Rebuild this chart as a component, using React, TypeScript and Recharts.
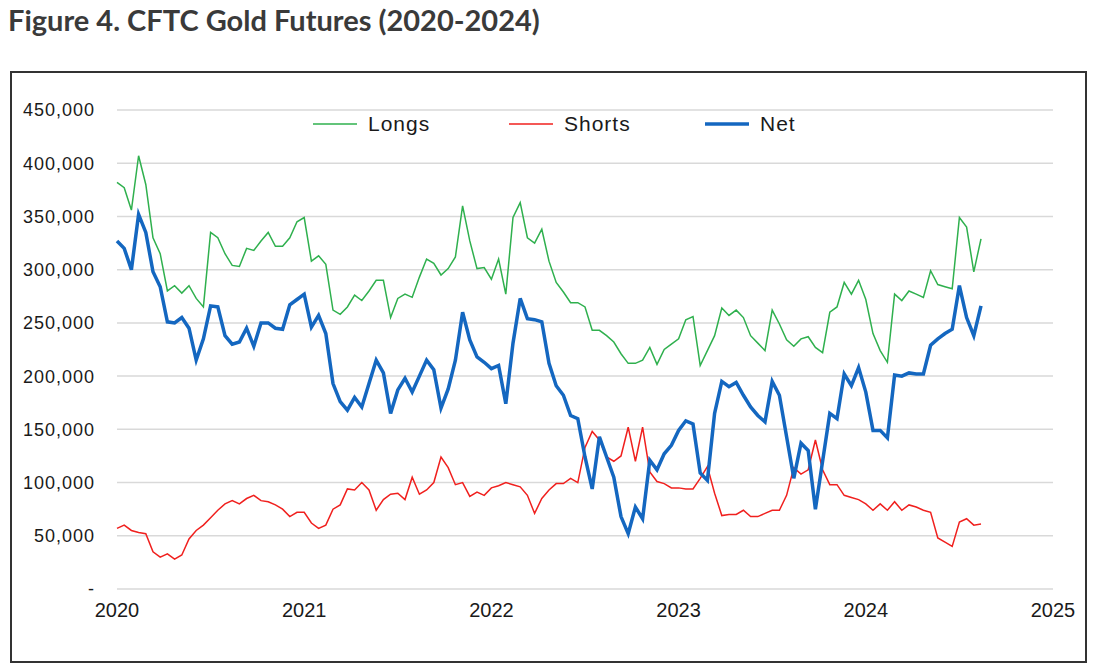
import { LineChart, Line, XAxis, YAxis, CartesianGrid, Legend } from "recharts";

// CFTC gold futures positioning, thousands of contracts, read every 2 weeks from Jan 2020
const longs = [
  382, 377, 356, 407, 380, 330, 315, 280, 285, 278, 285, 273, 265, 335, 330, 315, 304, 303, 320, 318,
  327, 335, 322, 322, 330, 345, 349, 308, 313, 305, 262, 258, 265, 276, 271, 280, 290, 290, 255, 273,
  277, 274, 293, 310, 306, 295, 301, 312, 360, 327, 301, 302, 291, 310, 277, 349, 363, 330, 325, 338,
  308, 288, 279, 269, 269, 265, 243, 243, 238, 232, 221, 212, 212, 215, 227, 211, 225, 230, 235, 253,
  256, 210, 224, 238, 264, 257, 262, 255, 238, 231, 224, 262, 249, 234, 228, 235, 237, 227, 222, 260,
  265, 288, 277, 290, 272, 240, 224, 213, 277, 271, 280, 277, 274, 299, 286, 284, 282, 349, 340, 298,
  329,
];
const shorts = [
  57, 60, 55, 53, 52, 35, 30, 33, 28, 32, 47, 55, 60, 67, 74, 80, 83, 80, 85, 88,
  83, 82, 79, 75, 68, 72, 72, 62, 57, 60, 75, 79, 94, 93, 100, 93, 74, 84, 89, 90,
  84, 105, 89, 93, 100, 124, 114, 98, 100, 87, 91, 88, 95, 97, 100, 98, 96, 88, 71, 85,
  93, 99, 99, 104, 100, 133, 148, 140, 124, 120, 125, 152, 120, 152, 110, 101, 99, 95, 95, 94,
  94, 104, 115, 90, 69, 70, 70, 74, 68, 68, 71, 74, 74, 88, 114, 108, 112, 140, 112, 98,
  98, 88, 86, 84, 80, 74, 80, 74, 82, 74, 79, 77, 74, 72, 48, 44, 40, 63, 66, 60,
  61,
];
const net = [
  327, 320, 300, 352, 335, 298, 284, 251, 250, 255, 245, 215, 235, 266, 265, 238, 230, 232, 245, 228,
  250, 250, 245, 244, 267, 272, 277, 246, 257, 240, 193, 176, 168, 180, 171, 193, 215, 203, 165, 187,
  198, 185, 200, 215, 206, 170, 188, 215, 260, 234, 218, 213, 207, 210, 174, 231, 273, 254, 253, 251,
  212, 191, 182, 163, 160, 124, 94, 143, 124, 105, 68, 52, 77, 66, 121, 112, 127, 135, 149, 158,
  155, 109, 102, 165, 195, 190, 194, 182, 171, 163, 157, 195, 182, 143, 104, 137, 130, 75, 120, 165,
  160, 202, 191, 208, 185, 149, 149, 142, 201, 200, 203, 202, 202, 229, 235, 240, 244, 285, 255, 238,
  266,
];

const yearTicks = [2020, 2021, 2022, 2023, 2024, 2025];
const valueTicks = [0, 50, 100, 150, 200, 250, 300, 350, 400, 450];

const data = longs.map((v, i) => ({
  t: 2020 + i / 26,
  longs: v,
  shorts: shorts[i],
  net: net[i],
}));

const legendItems = [
  { name: "Longs", color: "#2fb04e", width: 1.5 },
  { name: "Shorts", color: "#f0201e", width: 1.5 },
  { name: "Net", color: "#1467c0", width: 3.5 },
];

const FONT = "'Liberation Sans', Arial, sans-serif";

function renderLegend() {
  return (
    <div style={{ display: "flex", fontFamily: FONT, fontSize: 21, color: "#1a1a1a", lineHeight: "24px" }}>
      {legendItems.map((it) => (
        <div key={it.name} style={{ display: "flex", alignItems: "center", width: 196 }}>
          <svg width={44} height={10}>
            <line x1={0} y1={5} x2={44} y2={5} stroke={it.color} strokeWidth={it.width} />
          </svg>
          <span style={{ marginLeft: 11, letterSpacing: 1 }}>{it.name}</span>
        </div>
      ))}
    </div>
  );
}

const fmtValue = (v: number) => (v === 0 ? "-" : (v * 1000).toLocaleString("en-US"));

export default function App() {
  return (
    <div style={{ position: "absolute", left: 0, top: 0, width: 1100, height: 670, background: "#fff" }}>
      <div
        style={{
          position: "absolute",
          left: 8,
          top: 5,
          fontFamily: "Lato, 'Open Sans', sans-serif",
          fontWeight: 700,
          fontSize: 29,
          lineHeight: "29px",
          color: "#3a3a3a",
        }}
      >
        Figure 4. CFTC Gold Futures (2020-2024)
      </div>
      <div
        style={{
          position: "absolute",
          left: 10,
          top: 71,
          width: 1077,
          height: 592,
          boxSizing: "border-box",
          border: "2px solid #333",
        }}
      />
      <div style={{ position: "absolute", left: 0, top: 0 }}>
        <LineChart width={1100} height={670} data={data} margin={{ top: 110, right: 47, bottom: 51, left: 0 }}>
          <CartesianGrid vertical={false} stroke="#d9d9d9" strokeWidth={1.5} />
          <XAxis
            dataKey="t"
            type="number"
            domain={[2020, 2025]}
            ticks={yearTicks}
            axisLine={false}
            tickLine={false}
            tickSize={0}
            tickMargin={14}
            height={30}
            tick={{ fontSize: 20, fill: "#1a1a1a", fontFamily: FONT }}
          />
          <YAxis
            type="number"
            domain={[0, 450]}
            ticks={valueTicks}
            tickFormatter={fmtValue}
            axisLine={false}
            tickLine={false}
            tickSize={0}
            tickMargin={22}
            width={117}
            tick={{ fontSize: 18, fill: "#1a1a1a", fontFamily: FONT, letterSpacing: 1 }}
          />
          <Legend
            verticalAlign="middle"
            align="center"
            content={renderLegend}
            wrapperStyle={{ position: "absolute", left: 313, top: 112, width: 620, height: 24 }}
          />
          <Line type="linear" dataKey="longs" stroke="#2fb04e" strokeWidth={1.5} dot={false} isAnimationActive={false} />
          <Line type="linear" dataKey="shorts" stroke="#f0201e" strokeWidth={1.5} dot={false} isAnimationActive={false} />
          <Line type="linear" dataKey="net" stroke="#1467c0" strokeWidth={3.5} dot={false} isAnimationActive={false} />
        </LineChart>
      </div>
    </div>
  );
}
